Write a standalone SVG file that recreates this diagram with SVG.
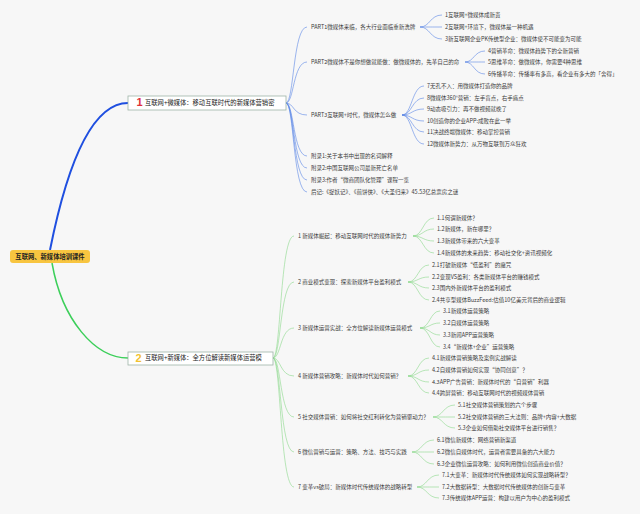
<svg xmlns="http://www.w3.org/2000/svg" width="640" height="514" viewBox="0 0 640 514">
<style>
text{font-family:"Noto Sans CJK SC","Noto Sans CJK JP",sans-serif;font-size:5.5px;fill:#3a3a3a;dominant-baseline:middle}
.b{fill:none;stroke:#5b86e5;stroke-width:0.6}
.g{fill:none;stroke:#8cd88c;stroke-width:0.6}
.box{fill:#fff;stroke:#9fb5a8;stroke-width:0.8}
.h{font-size:6.3px;fill:#222}
.num{font-family:"Liberation Sans",sans-serif;font-weight:bold;font-size:11px}
</style>
<rect width="640" height="514" fill="#f7f7f7"/>
<g id="connectors">
<path d="M50,250 C72,140 100,103 128,103" fill="none" stroke="#1f4fe0" stroke-width="2"/>
<path d="M52,263 C62,320 95,358 128,358" fill="none" stroke="#3ccf5a" stroke-width="1.5"/>
<path class="b" d="M286,103 C294,103 293,27 307,27"/>
<path class="b" d="M286,103 C294,103 293,62 307,62"/>
<path class="b" d="M286,103 C294,103 293,115 307,115"/>
<path class="b" d="M286,103 C294,103 293,156 307,156"/>
<path class="b" d="M286,103 C294,103 293,168 307,168"/>
<path class="b" d="M286,103 C294,103 293,180 307,180"/>
<path class="b" d="M286,103 C294,103 293,192 307,192"/>
<path class="b" d="M420,27 C430,27 430,15 442,15"/>
<path class="b" d="M420,27 C430,27 430,27 442,27"/>
<path class="b" d="M420,27 C430,27 430,39 442,39"/>
<path class="b" d="M465,62 C474,62 474,51 485,51"/>
<path class="b" d="M465,62 C474,62 474,62 485,62"/>
<path class="b" d="M465,62 C474,62 474,74 485,74"/>
<path class="b" d="M402,115 C412,115 412,86 424,86"/>
<path class="b" d="M402,115 C412,115 412,98 424,98"/>
<path class="b" d="M402,115 C412,115 412,109 424,109"/>
<path class="b" d="M402,115 C412,115 412,121 424,121"/>
<path class="b" d="M402,115 C412,115 412,132 424,132"/>
<path class="b" d="M402,115 C412,115 412,144 424,144"/>
<path class="g" d="M273,358 C281,358 280,236 294,236"/>
<path class="g" d="M273,358 C281,358 280,282 294,282"/>
<path class="g" d="M273,358 C281,358 280,328 294,328"/>
<path class="g" d="M273,358 C281,358 280,376 294,376"/>
<path class="g" d="M273,358 C281,358 280,417 294,417"/>
<path class="g" d="M273,358 C281,358 280,452 294,452"/>
<path class="g" d="M273,358 C281,358 280,487 294,487"/>
<path class="g" d="M413,236 C423,236 423,218 434,218"/>
<path class="g" d="M413,236 C423,236 423,229 434,229"/>
<path class="g" d="M413,236 C423,236 423,241 434,241"/>
<path class="g" d="M413,236 C423,236 423,253 434,253"/>
<path class="g" d="M408,282 C418,282 418,265 429,265"/>
<path class="g" d="M408,282 C418,282 418,277 429,277"/>
<path class="g" d="M408,282 C418,282 418,288 429,288"/>
<path class="g" d="M408,282 C418,282 418,300 429,300"/>
<path class="g" d="M420,328 C430,328 430,311 440,311"/>
<path class="g" d="M420,328 C430,328 430,323 440,323"/>
<path class="g" d="M420,328 C430,328 430,335 440,335"/>
<path class="g" d="M420,328 C430,328 430,347 440,347"/>
<path class="g" d="M408,376 C418,376 418,358 429,358"/>
<path class="g" d="M408,376 C418,376 418,370 429,370"/>
<path class="g" d="M408,376 C418,376 418,382 429,382"/>
<path class="g" d="M408,376 C418,376 418,393 429,393"/>
<path class="g" d="M433,417 C443,417 443,405 455,405"/>
<path class="g" d="M433,417 C443,417 443,417 455,417"/>
<path class="g" d="M433,417 C443,417 443,428 455,428"/>
<path class="g" d="M412,452 C422,452 422,440 434,440"/>
<path class="g" d="M412,452 C422,452 422,452 434,452"/>
<path class="g" d="M412,452 C422,452 422,464 434,464"/>
<path class="g" d="M417,487 C427,487 427,475 439,475"/>
<path class="g" d="M417,487 C427,487 427,487 439,487"/>
<path class="g" d="M417,487 C427,487 427,498 439,498"/>
</g>
<g id="root">
<rect x="10" y="250" width="80" height="13" rx="3" fill="#f8c540"/>
<text x="50" y="256.8" text-anchor="middle" style="font-size:6.3px;fill:#222;font-weight:bold">互联网、新媒体培训课件</text>
</g>
<g id="main1">
<rect class="box" x="128" y="96" width="158" height="14"/>
<text class="num" x="136.5" y="103.5" style="fill:#e0303a">1</text>
<text class="h" x="145" y="103.3">互联网+微媒体：移动互联时代的新媒体营销密</text>
</g>
<g id="main2">
<rect class="box" x="128" y="352" width="145" height="13"/>
<text class="num" x="135.5" y="358.8" style="fill:#f2c230">2</text>
<text class="h" x="145" y="358.5">互联网+新媒体：全方位解读新媒体运营模</text>
</g>
<g id="b1-children">
<g id="p1"><text x="311" y="27">PART1微媒体来临，各大行业面临重新洗牌</text></g>
<g id="p1-1"><text x="445" y="15">1互联网+微媒体成新贵</text></g>
<g id="p1-2"><text x="445" y="27">2互联网+环境下，微媒体是一种机遇</text></g>
<g id="p1-3"><text x="445" y="39">3新互联网企业PK传统型企业：微媒体使不可能变为可能</text></g>
<g id="p2"><text x="311" y="62">PART2微媒体不是你想做就能做：做微媒体的，先革自己的命</text></g>
<g id="p2-4"><text x="488" y="51">4营销革命：微媒体趋势下的全新营销</text></g>
<g id="p2-5"><text x="488" y="62">5思维革命：做微媒体，你需要4种思维</text></g>
<g id="p2-6"><text x="488" y="74">6传播革命：传播率有多高，看企业有多大的「舍得」</text></g>
<g id="p3"><text x="311" y="115">PART3互联网+时代，微媒体怎么做</text></g>
<g id="p3-7"><text x="427" y="86">7无孔不入：用微媒体打造你的品牌</text></g>
<g id="p3-8"><text x="427" y="98">8微媒体360°营销：左手盲点，右手痛点</text></g>
<g id="p3-9"><text x="427" y="109">9动态吸引力：再不做视频就晚了</text></g>
<g id="p3-10"><text x="427" y="121">10创造你的企业APP:成败在此一举</text></g>
<g id="p3-11"><text x="427" y="132">11决战终端微媒体：移动掌控营销</text></g>
<g id="p3-12"><text x="427" y="144">12微媒体新势力：从万物互联到万众狂欢</text></g>
<g id="a1"><text x="311" y="156">附录1:关于本书中出现的名词解释</text></g>
<g id="a2"><text x="311" y="168">附录2:中国互联网公司最新死亡名单</text></g>
<g id="a3"><text x="311" y="180">附录3:作者“微商团队化管理”课程一览</text></g>
<g id="hj"><text x="311" y="192">后记:《捉妖记》、《煎饼侠》、《大圣归来》45.53亿总票房之谜</text></g>
</g>
<g id="b2-children">
<g id="c1"><text x="298" y="236">1 新媒体崛起：移动互联网时代的媒体新势力</text></g>
<g id="c1-1"><text x="437" y="218">1.1何谓新媒体？</text></g>
<g id="c1-2"><text x="437" y="229">1.2新媒体，新在哪里？</text></g>
<g id="c1-3"><text x="437" y="241">1.3新媒体带来的六大变革</text></g>
<g id="c1-4"><text x="437" y="253">1.4新媒体的未来趋势：移动社交化+资讯视频化</text></g>
<g id="c2"><text x="298" y="282">2 商业模式变现：探索新媒体平台盈利模式</text></g>
<g id="c2-1"><text x="432" y="265">2.1打破新媒体“低盈利”的魔咒</text></g>
<g id="c2-2"><text x="432" y="277">2.2变现VS盈利：各类新媒体平台的赚钱模式</text></g>
<g id="c2-3"><text x="432" y="288">2.3国内外新媒体平台的盈利模式</text></g>
<g id="c2-4"><text x="432" y="300">2.4共享型媒体BuzzFeed:估值10亿美元背后的商业逻辑</text></g>
<g id="c3"><text x="298" y="328">3 新媒体运营实战：全方位解读新媒体运营模式</text></g>
<g id="c3-1"><text x="443" y="311">3.1新媒体运营策略</text></g>
<g id="c3-2"><text x="443" y="323">3.2自媒体运营策略</text></g>
<g id="c3-3"><text x="443" y="335">3.3新闻APP运营策略</text></g>
<g id="c3-4"><text x="443" y="347">3.4“新媒体+企业”运营策略</text></g>
<g id="c4"><text x="298" y="376">4 新媒体营销攻略：新媒体时代如何营销？</text></g>
<g id="c4-1"><text x="432" y="358">4.1新媒体营销策略及案例实战解读</text></g>
<g id="c4-2"><text x="432" y="370">4.2自媒体营销如何实现“协同创意”？</text></g>
<g id="c4-3"><text x="432" y="382">4.3APP广告营销：新媒体时代的“自营销”利器</text></g>
<g id="c4-4"><text x="432" y="393">4.4跨屏营销：移动互联网时代的视频媒体营销</text></g>
<g id="c5"><text x="298" y="417">5 社交媒体营销：如何将社交红利转化为营销驱动力？</text></g>
<g id="c5-1"><text x="458" y="405">5.1社交媒体营销策划的六个步骤</text></g>
<g id="c5-2"><text x="458" y="417">5.2社交媒体营销的三大法则：品牌+内容+大数据</text></g>
<g id="c5-3"><text x="458" y="428">5.3企业如何借助社交媒体平台进行销售？</text></g>
<g id="c6"><text x="298" y="452">6 微信营销与运营：策略、方法、技巧与实践</text></g>
<g id="c6-1"><text x="437" y="440">6.1微信新媒体：网络营销新渠道</text></g>
<g id="c6-2"><text x="437" y="452">6.2微信自媒体时代，运营者需要具备的六大能力</text></g>
<g id="c6-3"><text x="437" y="464">6.3企业微信运营攻略：如何利用微信创造商业价值？</text></g>
<g id="c7"><text x="298" y="487">7 变革vs破局：新媒体时代传统媒体的战略转型</text></g>
<g id="c7-1"><text x="442" y="475">7.1大变革：新媒体时代传统媒体如何实现战略转型？</text></g>
<g id="c7-2"><text x="442" y="487">7.2大数据转型：大数据时代传统媒体的创新与变革</text></g>
<g id="c7-3"><text x="442" y="498">7.3传统媒体APP运营：构建以用户为中心的盈利模式</text></g>
</g>
</svg>
